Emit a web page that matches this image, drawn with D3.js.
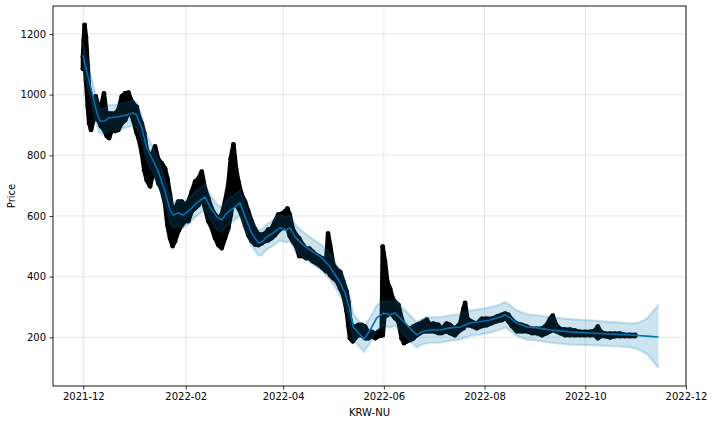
<!DOCTYPE html>
<html>
<head>
<meta charset="utf-8">
<script src="https://cdn.jsdelivr.net/npm/d3@7/dist/d3.min.js"></script>
<style>
  html, body { margin: 0; padding: 0; background: #fff; }
  svg { display: block; font-family: "DejaVu Sans", sans-serif; }
</style>
</head>
<body>
<svg id="chart" width="712" height="424"></svg>
<script>
// ---------------- DATA ----------------
// Observed (hourly) prices summarised as high/low envelope at sample times
const obsDates = ["2021-11-30T18","2021-12-01T06","2021-12-01T18","2021-12-02T14","2021-12-03T16","2021-12-04T12","2021-12-05T16","2021-12-07T02","2021-12-08T12","2021-12-10T02","2021-12-11T17","2021-12-13T12","2021-12-15T05","2021-12-16T14","2021-12-18T05","2021-12-20T05","2021-12-22T05","2021-12-24T07","2021-12-26T07","2021-12-28T07","2021-12-29T17","2021-12-31T07","2022-01-02T07","2022-01-03T17","2022-01-05T10","2022-01-06T22","2022-01-08T10","2022-01-10T10","2022-01-11T19","2022-01-13T10","2022-01-15T10","2022-01-17T12","2022-01-19T12","2022-01-20T22","2022-01-22T12","2022-01-24T02","2022-01-25T12","2022-01-27T12","2022-01-29T14","2022-01-31T14","2022-02-02T14","2022-02-04T17","2022-02-06T17","2022-02-08T17","2022-02-10T17","2022-02-12T17","2022-02-14T17","2022-02-16T19","2022-02-18T19","2022-02-20T19","2022-02-22T19","2022-02-24T19","2022-02-26T19","2022-02-28T07","2022-03-01T22","2022-03-03T12","2022-03-04T22","2022-03-06T22","2022-03-08T22","2022-03-10T22","2022-03-13T00","2022-03-15T00","2022-03-17T00","2022-03-19T00","2022-03-21T00","2022-03-23T00","2022-03-25T00","2022-03-27T00","2022-03-29T00","2022-03-31T00","2022-04-02T00","2022-04-03T14","2022-04-05T00","2022-04-06T19","2022-04-08T19","2022-04-10T19","2022-04-12T22","2022-04-14T22","2022-04-16T22","2022-04-18T22","2022-04-20T22","2022-04-22T22","2022-04-25T00","2022-04-27T00","2022-04-28T05","2022-04-29T10","2022-05-01T10","2022-05-03T12","2022-05-05T12","2022-05-07T12","2022-05-09T12","2022-05-10T12","2022-05-11T12","2022-05-13T05","2022-05-14T14","2022-05-16T14","2022-05-18T14","2022-05-20T14","2022-05-22T14","2022-05-24T17","2022-05-26T17","2022-05-28T17","2022-05-30T17","2022-05-31T07","2022-06-01T17","2022-06-03T02","2022-06-04T19","2022-06-06T10","2022-06-07T19","2022-06-09T19","2022-06-11T19","2022-06-13T05","2022-06-14T22","2022-06-16T22","2022-06-18T22","2022-06-20T22","2022-06-22T22","2022-06-24T22","2022-06-27T00","2022-06-29T00","2022-07-01T00","2022-07-04T00","2022-07-06T00","2022-07-09T00","2022-07-11T00","2022-07-14T00","2022-07-17T05","2022-07-19T05","2022-07-20T05","2022-07-21T14","2022-07-24T07","2022-07-27T07","2022-07-30T07","2022-08-02T07","2022-08-05T10","2022-08-08T10","2022-08-11T10","2022-08-13T10","2022-08-15T10","2022-08-17T12","2022-08-20T12","2022-08-23T12","2022-08-26T14","2022-08-29T14","2022-09-01T14","2022-09-04T17","2022-09-07T17","2022-09-09T17","2022-09-11T07","2022-09-13T07","2022-09-15T17","2022-09-18T19","2022-09-21T19","2022-09-24T19","2022-09-27T22","2022-09-30T22","2022-10-03T22","2022-10-06T22","2022-10-08T14","2022-10-10T10","2022-10-13T00","2022-10-16T00","2022-10-19T00","2022-10-22T00","2022-10-25T00","2022-10-28T00","2022-10-31T05"];
const obsHigh = [1125,1180,1230,1190,1092,1016,994,984,994,961,961,1004,927,937,937,937,950,994,1004,1007,984,970,960,927,904,872,819,796,806,829,786,773,756,723,670,614,624,647,647,637,647,680,713,723,746,690,657,624,604,591,604,647,703,789,836,756,713,670,647,614,581,556,540,538,542,555,558,581,604,607,614,624,604,558,538,525,505,492,492,482,472,466,459,449,542,505,439,423,416,383,350,317,261,228,235,241,241,235,218,218,212,218,228,499,449,383,360,327,317,307,261,241,228,228,235,241,245,251,258,241,245,241,228,245,241,228,245,294,313,261,251,245,261,261,261,268,274,278,274,258,245,241,235,228,228,228,241,261,271,241,228,225,225,222,218,218,218,222,235,218,212,212,212,212,208,208,208];
const obsLow = [1085,1090,1105,1048,962,906,884,916,929,916,896,884,864,857,884,880,884,906,916,939,939,916,874,851,808,751,718,698,732,742,709,686,640,570,527,501,517,550,570,583,583,616,626,636,659,626,583,560,527,504,494,527,560,603,659,636,626,603,570,537,517,506,504,510,517,520,527,537,550,560,560,560,534,517,501,468,468,461,461,451,445,438,428,418,418,405,395,385,362,339,286,240,197,187,197,207,207,197,197,204,197,204,207,207,286,273,286,273,263,253,197,181,187,191,197,207,214,220,220,220,220,214,214,220,214,207,224,230,240,240,237,230,237,240,247,253,257,263,253,237,220,220,220,214,214,207,214,220,224,220,214,207,207,207,207,207,207,207,197,204,204,200,204,204,204,204,204];

// Forecast (yhat) with uncertainty interval
const fcDates = ["2021-11-30T18","2021-12-02T00","2021-12-06T02","2021-12-09T02","2021-12-11T02","2021-12-14T02","2021-12-16T02","2021-12-22T05","2021-12-27T07","2021-12-31T07","2022-01-02T07","2022-01-05T10","2022-01-08T10","2022-01-11T10","2022-01-15T10","2022-01-19T12","2022-01-22T12","2022-01-24T12","2022-01-27T12","2022-01-30T14","2022-02-03T14","2022-02-07T17","2022-02-12T17","2022-02-15T17","2022-02-19T19","2022-02-22T19","2022-02-25T22","2022-03-01T22","2022-03-05T22","2022-03-08T22","2022-03-13T00","2022-03-17T00","2022-03-19T02","2022-03-22T02","2022-03-26T02","2022-03-30T02","2022-04-03T05","2022-04-05T05","2022-04-08T05","2022-04-13T07","2022-04-19T07","2022-04-24T10","2022-04-29T10","2022-05-04T12","2022-05-08T12","2022-05-11T02","2022-05-13T12","2022-05-20T00","2022-05-23T17","2022-05-27T17","2022-05-31T17","2022-06-04T19","2022-06-07T19","2022-06-10T19","2022-06-14T22","2022-06-20T22","2022-06-24T00","2022-06-29T00","2022-07-05T02","2022-07-11T02","2022-07-17T05","2022-07-23T05","2022-07-29T07","2022-08-04T07","2022-08-10T10","2022-08-13T10","2022-08-16T10","2022-08-20T12","2022-08-26T14","2022-09-01T14","2022-09-09T17","2022-09-21T19","2022-10-03T22","2022-10-16T00","2022-10-28T02","2022-11-02T00","2022-11-07T07","2022-11-14T07"];
const yhat = [1131,1099,1010,943,913,913,923,927,933,940,933,890,825,792,746,680,620,603,610,603,620,643,663,630,597,587,610,626,643,597,544,511,514,531,544,561,554,561,531,504,481,462,432,389,346,297,234,194,224,264,280,274,280,264,241,208,218,224,224,231,234,247,251,257,267,274,264,247,234,231,224,218,214,211,208,206,204,201];
const yhatUpper = [1173,1141,1052,985,955,955,965,969,975,982,975,932,867,834,788,722,662,645,652,645,662,685,705,672,639,629,652,668,685,639,586,553,556,573,586,603,596,603,573,546,523,504,474,431,388,339,276,236,266,306,322,316,322,306,283,250,260,266,266,273,276,289,293,299,309,316,306,289,276,273,266,260,256,251,246,248,262,307];
const yhatLower = [1089,1057,968,901,871,871,881,885,891,898,891,848,783,750,704,638,578,561,568,561,578,601,621,588,555,545,568,584,601,555,502,469,472,489,502,519,512,519,489,462,439,420,390,347,304,255,192,152,182,222,238,232,238,222,199,166,176,182,182,189,192,205,209,215,225,232,222,205,192,189,182,176,174,171,167,160,146,99];

const yTicks = [200, 400, 600, 800, 1000, 1200];
const xTickLabels = ["2021-12","2022-02","2022-04","2022-06","2022-08","2022-10","2022-12"];
const xLabel = "KRW-NU";
const yLabel = "Price";

// ---------------- CHART ----------------
const svg = d3.select("#chart");
const W = 712, H = 424;
const plot = { left: 53, right: 686, top: 6, bottom: 386 };
const parse = d3.utcParse("%Y-%m-%dT%H");
const parseMonth = d3.utcParse("%Y-%m");

const x = d3.scaleUtc()
  .domain([parse("2021-11-12T15"), parse("2022-12-01T00")])
  .range([plot.left, plot.right]);
const y = d3.scaleLinear()
  .domain([39.4, 1292.3])
  .range([plot.bottom, plot.top]);

const obs = obsDates.map((d, i) => ({ t: parse(d), hi: obsHigh[i], lo: obsLow[i] }));
const fc = fcDates.map((d, i) => ({ t: parse(d), yhat: yhat[i], up: yhatUpper[i], lo: yhatLower[i] }));

svg.append("rect").attr("width", W).attr("height", H).attr("fill", "#fff");

const clipId = "plotclip";
svg.append("clipPath").attr("id", clipId).append("rect")
  .attr("x", plot.left).attr("y", plot.top)
  .attr("width", plot.right - plot.left).attr("height", plot.bottom - plot.top);

// grid
const grid = svg.append("g");
const xTickDates = xTickLabels.map(parseMonth);
grid.selectAll("line.gx").data(xTickDates).join("line")
  .attr("x1", d => x(d)).attr("x2", d => x(d))
  .attr("y1", plot.top).attr("y2", plot.bottom)
  .attr("stroke", "#808080").attr("stroke-opacity", 0.2).attr("stroke-width", 1);
grid.selectAll("line.gy").data(yTicks).join("line")
  .attr("x1", plot.left).attr("x2", plot.right)
  .attr("y1", d => y(d)).attr("y2", d => y(d))
  .attr("stroke", "#808080").attr("stroke-opacity", 0.2).attr("stroke-width", 1);

const g = svg.append("g").attr("clip-path", `url(#${clipId})`);

// observed points envelope
const obsArea = d3.area().x(d => x(d.t)).y0(d => y(d.lo)).y1(d => y(d.hi));
g.append("path").datum(obs).attr("d", obsArea)
  .attr("fill", "#000").attr("stroke", "#000").attr("stroke-width", 4.4)
  .attr("stroke-linejoin", "round").attr("stroke-linecap", "round");
g.selectAll("circle.hi").data(obs).join("circle")
  .attr("cx", d => x(d.t)).attr("cy", d => y(d.hi)).attr("r", 2.4).attr("fill", "#000");
g.selectAll("circle.lo").data(obs).join("circle")
  .attr("cx", d => x(d.t)).attr("cy", d => y(d.lo)).attr("r", 2.4).attr("fill", "#000");

// forecast line
g.append("path").datum(fc)
  .attr("d", d3.line().x(d => x(d.t)).y(d => y(d.yhat)))
  .attr("fill", "none").attr("stroke", "#0072B2").attr("stroke-width", 1.6)
  .attr("stroke-linejoin", "round");

// uncertainty band
g.append("path").datum(fc)
  .attr("d", d3.area().x(d => x(d.t)).y0(d => y(d.lo)).y1(d => y(d.up)))
  .attr("fill", "#0072B2").attr("fill-opacity", 0.2);
const edge = (acc) => d3.line().x(d => x(d.t)).y(d => y(acc(d)));
[d => d.up, d => d.lo].forEach(acc => {
  g.append("path").datum(fc).attr("d", edge(acc))
    .attr("fill", "none").attr("stroke", "#0072B2").attr("stroke-opacity", 0.18)
    .attr("stroke-width", 2.2);
});

// axes
const fmt = d3.utcFormat("%Y-%m");
const xAxis = svg.append("g").attr("transform", `translate(0,${plot.bottom})`)
  .call(d3.axisBottom(x).tickValues(xTickDates).tickFormat(fmt).tickSize(3.5).tickPadding(3.5));
const yAxis = svg.append("g").attr("transform", `translate(${plot.left},0)`)
  .call(d3.axisLeft(y).tickValues(yTicks).tickFormat(d3.format("d")).tickSize(3.5).tickPadding(3.5));
[xAxis, yAxis].forEach(a => {
  a.select(".domain").remove();
  a.selectAll(".tick line").attr("stroke", "#000").attr("stroke-width", 0.8);
  a.selectAll(".tick text").attr("fill", "#000").style("font-size", "10px")
    .style("font-family", "'DejaVu Sans', sans-serif");
});

// frame
svg.append("rect")
  .attr("x", plot.left).attr("y", plot.top)
  .attr("width", plot.right - plot.left).attr("height", plot.bottom - plot.top)
  .attr("fill", "none").attr("stroke", "#000").attr("stroke-width", 0.9);

// axis labels
svg.append("text").attr("x", (plot.left + plot.right) / 2).attr("y", 416)
  .attr("text-anchor", "middle").style("font-size", "10px").attr("fill", "#000").text(xLabel);
svg.append("text")
  .attr("transform", `translate(15,${(plot.top + plot.bottom) / 2}) rotate(-90)`)
  .attr("text-anchor", "middle").style("font-size", "10px").attr("fill", "#000").text(yLabel);
</script>
</body>
</html>
